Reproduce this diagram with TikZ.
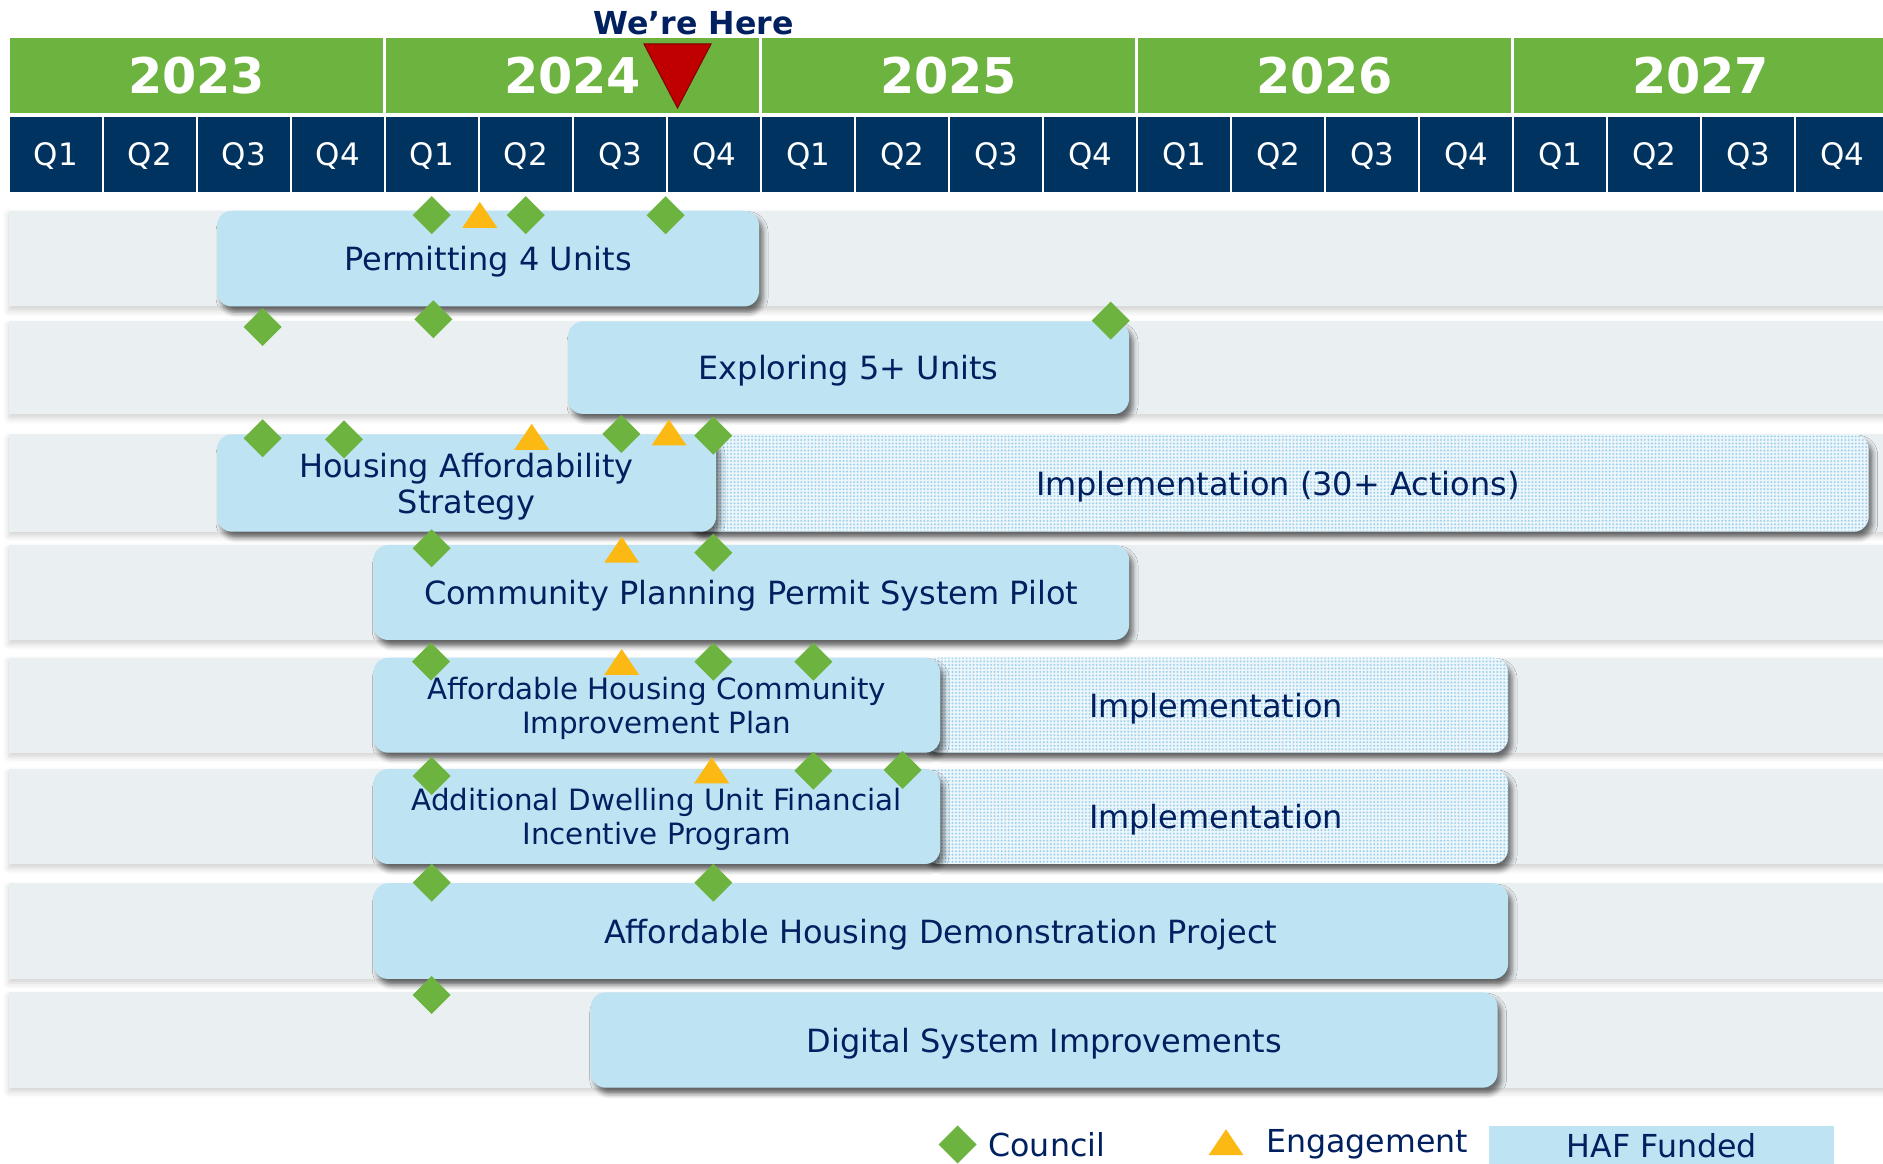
\documentclass[tikz,border=0pt]{standalone}
\usepackage{fontspec}
\setmainfont{DejaVu Sans}
\usetikzlibrary{shadows.blur,patterns.meta}

\definecolor{headgreen}{RGB}{109,179,63}
\definecolor{headnavy}{RGB}{0,51,96}
\definecolor{textnavy}{RGB}{0,32,96}
\definecolor{herered}{RGB}{192,0,0}
\definecolor{hafblue}{RGB}{190,227,243}
\definecolor{dotbg}{RGB}{236,246,251}
\definecolor{dotblue}{RGB}{160,210,238}
\definecolor{rowgray}{RGB}{234,239,242}
\definecolor{councilgreen}{RGB}{109,179,63}
\definecolor{engageorange}{RGB}{253,185,19}

\newcommand{\yearfont}{\fontsize{14}{16}\selectfont\bfseries}
\newcommand{\qfont}{\fontsize{8.8}{10}\selectfont}
\newcommand{\phasefont}{\fontsize{9.1}{10.2}\selectfont}
\newcommand{\smallphasefont}{\fontsize{8.35}{9.6}\selectfont}
\newcommand{\keyfont}{\fontsize{9}{10}\selectfont}

\tikzset{
  yearcell/.style={rectangle, fill=headgreen, text=white, font=\yearfont, inner sep=0pt,
    minimum width=3.73cm, minimum height=0.75cm},
  qcell/.style={rectangle, fill=headnavy, text=white, font=\qfont, inner sep=0pt, text depth=0pt,
    minimum width=0.92cm, minimum height=0.756cm},
  rowband/.style={fill=rowgray, blur shadow={shadow xshift=0cm, shadow yshift=-0.04cm,
    shadow blur radius=0.06cm, shadow opacity=18}},
  phase/.style={rectangle, rounded corners=0.15cm, fill=hafblue, text=textnavy, font=\phasefont,
    align=center, inner sep=0pt, text depth=0pt,
    blur shadow={shadow xshift=0.04cm, shadow yshift=-0.06cm, shadow blur radius=0.05cm, shadow opacity=55}},
  rollout/.style={rectangle, rounded corners=0.15cm, fill=dotbg, text=textnavy, font=\phasefont,
    inner sep=0pt, text depth=0pt,
    postaction={pattern={Dots[distance=1pt, radius=0.32pt]}, pattern color=dotblue},
    blur shadow={shadow xshift=0.04cm, shadow yshift=-0.06cm, shadow blur radius=0.05cm, shadow opacity=55}},
  legendtext/.style={text=textnavy, font=\keyfont, inner sep=0pt},
  hafkey/.style={rectangle, fill=hafblue, text=textnavy, font=\keyfont, inner sep=0pt, text depth=0pt,
    minimum width=3.447cm, minimum height=0.38cm},
  herelabel/.style={text=textnavy, font=\fontsize{9}{10}\selectfont\bfseries, inner sep=0pt},
  council/.pic={\fill[councilgreen] (0,0.19) -- (0.19,0) -- (0,-0.19) -- (-0.19,0) -- cycle;},
  engage/.pic={\fill[engageorange] (-0.175,-0.13) -- (0.175,-0.13) -- (0,0.13) -- cycle;}
}

\begin{document}
\begin{tikzpicture}
\useasboundingbox (0,0) rectangle (18.830,11.640);
% years
\node[yearcell] (yr23) at (1.965,10.888) {2023};
\node[yearcell] (yr24) at (5.725,10.888) {2024};
\node[yearcell] (yr25) at (9.485,10.888) {2025};
\node[yearcell] (yr26) at (13.245,10.888) {2026};
\node[yearcell] (yr27) at (17.005,10.888) {2027};
% quarters
\node[qcell] (q23a) at (0.560,10.095) {Q1};
\node[qcell] (q23b) at (1.500,10.095) {Q2};
\node[qcell] (q23c) at (2.440,10.095) {Q3};
\node[qcell] (q23d) at (3.380,10.095) {Q4};
\node[qcell] (q24a) at (4.320,10.095) {Q1};
\node[qcell] (q24b) at (5.260,10.095) {Q2};
\node[qcell] (q24c) at (6.200,10.095) {Q3};
\node[qcell] (q24d) at (7.140,10.095) {Q4};
\node[qcell] (q25a) at (8.080,10.095) {Q1};
\node[qcell] (q25b) at (9.020,10.095) {Q2};
\node[qcell] (q25c) at (9.960,10.095) {Q3};
\node[qcell] (q25d) at (10.900,10.095) {Q4};
\node[qcell] (q26a) at (11.840,10.095) {Q1};
\node[qcell] (q26b) at (12.780,10.095) {Q2};
\node[qcell] (q26c) at (13.720,10.095) {Q3};
\node[qcell] (q26d) at (14.660,10.095) {Q4};
\node[qcell] (q27a) at (15.600,10.095) {Q1};
\node[qcell] (q27b) at (16.540,10.095) {Q2};
\node[qcell] (q27c) at (17.480,10.095) {Q3};
\node[qcell] (q27d) at (18.420,10.095) {Q4};
% today marker
\node[herelabel, anchor=base] (here) at (6.935,11.290) {We’re Here};
\fill[herered, draw=herered!70!black, line width=0.3pt] (6.440,11.200) -- (7.110,11.200) -- (6.775,10.560) -- cycle;
% row bands
\fill[rowband] (0.090,8.575) rectangle ++(18.850,0.958);
\fill[rowband] (0.090,7.500) rectangle ++(18.850,0.925);
\fill[rowband] (0.090,6.323) rectangle ++(18.850,0.974);
\fill[rowband] (0.090,5.240) rectangle ++(18.850,0.950);
\fill[rowband] (0.090,4.113) rectangle ++(18.850,0.950);
\fill[rowband] (0.090,3.000) rectangle ++(18.850,0.950);
\fill[rowband] (0.090,1.850) rectangle ++(18.850,0.957);
\fill[rowband] (0.090,0.763) rectangle ++(18.850,0.954);
% follow-on implementation
\node[rollout, minimum width=11.816cm, minimum height=0.974cm] (hasimpl) at (12.778,6.810) {Implementation (30+ Actions)};
\node[rollout, minimum width=5.840cm, minimum height=0.950cm] (cipimpl) at (12.160,4.588) {Implementation};
\node[rollout, minimum width=5.840cm, minimum height=0.950cm] (aduimpl) at (12.160,3.475) {Implementation};
% funded work
\node[phase, minimum width=5.420cm, minimum height=0.958cm] (permit) at (4.880,9.054) {Permitting 4 Units};
\node[phase, minimum width=5.610cm, minimum height=0.925cm] (explore) at (8.485,7.963) {Exploring 5+ Units};
\node[phase, minimum width=4.990cm, minimum height=0.974cm] (has) at (4.665,6.810) {Housing Affordability\\Strategy};
\node[phase, minimum width=7.557cm, minimum height=0.950cm] (cpps) at (7.512,5.715) {Community Planning Permit System Pilot};
\node[phase, font=\smallphasefont, minimum width=5.667cm, minimum height=0.950cm] (cip) at (6.567,4.588) {Affordable Housing Community\\Improvement Plan};
\node[phase, font=\smallphasefont, minimum width=5.667cm, minimum height=0.950cm] (adu) at (6.567,3.475) {Additional Dwelling Unit Financial\\Incentive Program};
\node[phase, minimum width=11.347cm, minimum height=0.957cm] (demo) at (9.407,2.329) {Affordable Housing Demonstration Project};
\node[phase, minimum width=9.068cm, minimum height=0.954cm] (digital) at (10.441,1.240) {Digital System Improvements};
% milestones
\pic at (4.317,9.488) {council};
\pic at (4.798,9.492) {engage};
\pic at (5.258,9.488) {council};
\pic at (6.656,9.488) {council};
\pic at (2.627,8.370) {council};
\pic at (4.333,8.447) {council};
\pic at (11.108,8.434) {council};
\pic at (2.627,7.257) {council};
\pic at (3.440,7.247) {council};
\pic at (5.317,7.272) {engage};
\pic at (6.213,7.300) {council};
\pic at (6.690,7.315) {engage};
\pic at (7.133,7.283) {council};
\pic at (4.317,6.157) {council};
\pic at (6.217,6.143) {engage};
\pic at (7.133,6.113) {council};
\pic at (4.310,5.023) {council};
\pic at (6.217,5.020) {engage};
\pic at (7.133,5.023) {council};
\pic at (8.133,5.023) {council};
\pic at (4.317,3.880) {council};
\pic at (7.117,3.937) {engage};
\pic at (8.133,3.933) {council};
\pic at (9.027,3.940) {council};
\pic at (4.317,2.813) {council};
\pic at (7.133,2.813) {council};
\pic at (4.317,1.690) {council};
% legend
\pic at (9.577,0.195) {council};
\node[legendtext, anchor=base west] (lgcouncil) at (9.878,0.073) {Council};
\pic at (12.260,0.218) {engage};
\node[legendtext, anchor=base west] (lgengage) at (12.655,0.110) {Engagement};
\node[hafkey] (lghaf) at (16.618,0.190) {HAF Funded};
\end{tikzpicture}
\end{document}
